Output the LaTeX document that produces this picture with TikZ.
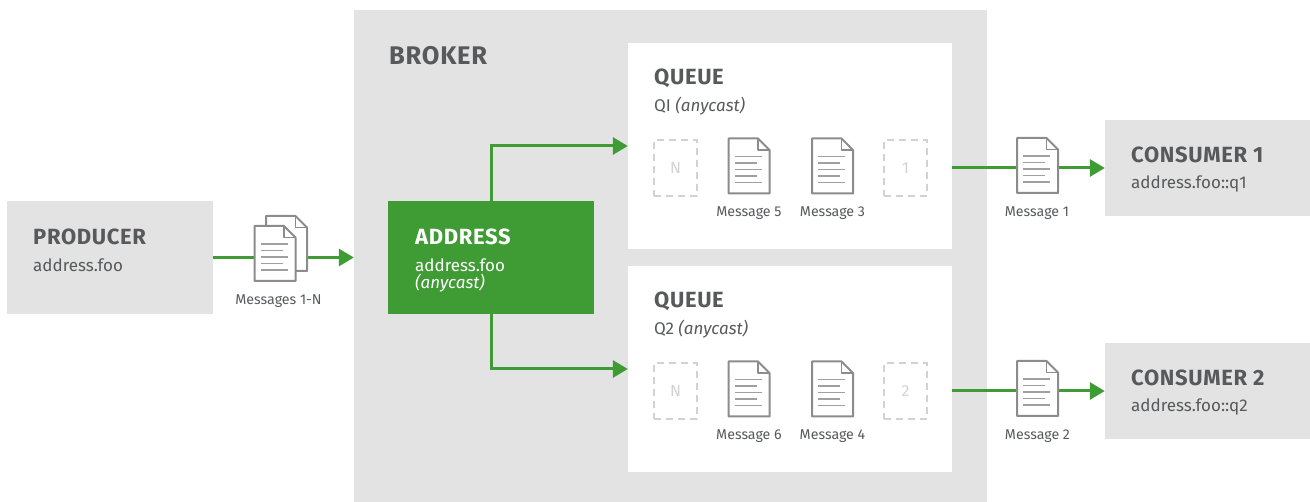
\documentclass[tikz,border=0pt]{standalone}
\usepackage{fontspec}
\setmainfont{Fira Sans}
\newfontfamily\titlefont[LetterSpace=3]{Fira Sans}
\usetikzlibrary{arrows.meta}
\definecolor{boxgray}{HTML}{E3E3E3}
\definecolor{textgray}{HTML}{58595B}
\definecolor{docgray}{HTML}{8C8C8C}
\definecolor{linegray}{HTML}{A0A0A0}
\definecolor{dashgray}{HTML}{D2D2D2}
\definecolor{flowgreen}{HTML}{3F9C35}
\tikzset{
  box/.style={rectangle, minimum width=#1, inner sep=0pt},
  title/.style={anchor=west, inner sep=0pt, text=textgray, font=\titlefont\fontsize{22}{22}\selectfont\bfseries},
  sub/.style={anchor=west, inner sep=0pt, text=textgray, font=\fontsize{17}{17}\selectfont},
  caption/.style={inner sep=0pt, text=textgray, font=\fontsize{14.2}{15}\selectfont},
  slot/.style={rectangle, draw=dashgray, line width=2.5pt, dash pattern=on 7pt off 5pt, minimum width=43pt, minimum height=56pt, inner sep=0pt, text=dashgray, font=\fontsize{16}{16}\selectfont},
  flow/.style={draw=flowgreen, line width=3pt, -{Triangle[length=15pt,width=17pt]}},
  blankdoc/.pic={
    \draw[docgray, line width=2pt, fill=white, line join=round] (-20.5,-27.5) -- (9,-27.5) -- (20.5,-16) -- (20.5,27.5) -- (-20.5,27.5) -- cycle;
    \draw[docgray, line width=1.6pt, line join=round] (9,-27.5) -- (9,-16) -- (20.5,-16);
  },
  docicon/.pic={
    \pic {blankdoc};
    \draw[linegray, line width=1.8pt] (-14.5,-9.5) -- (12.5,-9.5) (-14.5,-3) -- (7.5,-3) (-14.5,3.5) -- (12.5,3.5) (-14.5,10) -- (7.5,10) (-14.5,16.5) -- (12.5,16.5);
  }
}
\begin{document}
\begin{tikzpicture}[x=1pt, y=-1pt]
  \useasboundingbox (0,0) rectangle (1310,502);
  % boxes
  \node (broker) [box=633pt, minimum height=492pt, fill=boxgray] at (670.5,256) {};
  \node (producer) [box=206pt, minimum height=113pt, fill=boxgray] at (110,257.5) {};
  \node (address) [box=206pt, minimum height=113pt, fill=flowgreen] at (491,257.5) {};
  \node (queue1) [box=324pt, minimum height=206pt, fill=white] at (790,146) {};
  \node (queue2) [box=324pt, minimum height=206pt, fill=white] at (790,369) {};
  \node (consumer1) [box=205pt, minimum height=96pt, fill=boxgray] at (1207.5,168) {};
  \node (consumer2) [box=205pt, minimum height=96pt, fill=boxgray] at (1207.5,391) {};
  % labels
  \node (brokertitle) [title, font=\titlefont\fontsize{25.5}{26}\selectfont\bfseries] at (389,55.5) {BROKER};
  \node (producertitle) [title] at (33,237) {PRODUCER};
  \node (producersub) [sub] at (33,265.5) {address.foo};
  \node (addresstitle) [title, text=white] at (415,237) {ADDRESS};
  \node (addresssub) [sub, text=white] at (415,265.5) {address.foo};
  \node (addresskind) [sub, text=white] at (415,283) {\itshape (anycast)};
  \node (queuetitle1) [title] at (654,78) {QUEUE};
  \node (queuesub1) [sub] at (654,106.5) {QI \textit{(anycast)}};
  \node (queuetitle2) [title] at (654,301) {QUEUE};
  \node (queuesub2) [sub] at (654,329.5) {Q2 \textit{(anycast)}};
  \node (consumertitle1) [title] at (1131,155) {CONSUMER 1};
  \node (consumersub1) [sub] at (1131,183.5) {address.foo::q1};
  \node (consumertitle2) [title] at (1131,378) {CONSUMER 2};
  \node (consumersub2) [sub] at (1131,406.5) {address.foo::q2};
  % connectors
  \draw[flow] (producer.east) -- (broker.west |- producer.east);
  \draw[flow] (address.north) |- (queue1.west);
  \draw[flow] (address.south) |- (queue2.west);
  \draw[flow] (queue1.east |- consumer1.west) -- (consumer1.west);
  \draw[flow] (queue2.east |- consumer2.west) -- (consumer2.west);
  % messages
  \pic at (286.5,243.5) {blankdoc};
  \pic at (275,253.5) {docicon};
  \pic at (749,166) {docicon};
  \pic at (832.5,166) {docicon};
  \pic at (749,389) {docicon};
  \pic at (832.5,389) {docicon};
  \pic at (1037.5,165.5) {docicon};
  \pic at (1037.5,388.5) {docicon};
  \node (slotn1) [slot] at (675.5,168) {N};
  \node (slot1) [slot] at (905.5,168) {1};
  \node (slotn2) [slot] at (675.5,391) {N};
  \node (slot2) [slot] at (905.5,391) {2};
  \node (msgall) [caption] at (278.5,301.5) {Messages 1-N};
  \node (msg5) [caption] at (749,213.5) {Message 5};
  \node (msg3) [caption] at (832.5,213.5) {Message 3};
  \node (msg6) [caption] at (749,436.5) {Message 6};
  \node (msg4) [caption] at (832.5,436.5) {Message 4};
  \node (msg1) [caption] at (1037,213.5) {Message 1};
  \node (msg2) [caption] at (1037.5,436.5) {Message 2};
\end{tikzpicture}
\end{document}
